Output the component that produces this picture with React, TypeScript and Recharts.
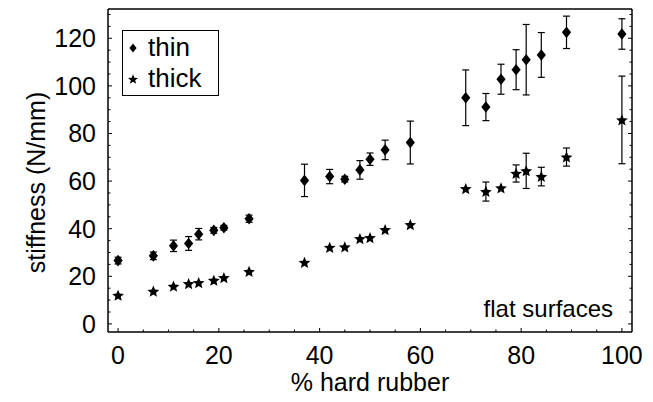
import React from "react";
import {
  ScatterChart,
  Scatter,
  XAxis,
  YAxis,
  ErrorBar,
  Legend,
  Label,
} from "recharts";

// % hard rubber in the sample
const percentHard = [
  0, 7, 11, 14, 16, 19, 21, 26, 37, 42, 45, 48, 50, 53, 58, 69, 73, 76, 79, 81,
  84, 89, 100,
];
// stiffness (N/mm), thin samples
const thinStiffness = [
  26.6, 28.6, 32.8, 33.8, 37.7, 39.3, 40.4, 44.2, 60.3, 61.9, 60.8, 64.7, 69.2,
  73.1, 76.2, 95.0, 91.1, 102.8, 106.8, 111.0, 113.0, 122.5, 121.8,
];
const thinError = [
  1.4, 1.6, 2.4, 2.9, 2.4, 1.2, 1.0, 1.5, 6.8, 3.0, 1.2, 3.9, 2.6, 4.1, 9.0,
  11.7, 5.7, 6.3, 8.4, 14.8, 9.4, 6.8, 6.4,
];
// stiffness (N/mm), thick samples (0 = bar hidden behind the marker)
const thickStiffness = [
  12.0, 13.7, 15.8, 16.9, 17.3, 18.3, 19.4, 22.0, 25.8, 32.1, 32.3, 35.8, 36.2,
  39.6, 41.7, 56.8, 55.6, 57.1, 63.2, 64.3, 61.9, 70.1, 85.7,
];
const thickError = [
  0, 0, 0, 0, 0, 0, 0, 0, 0, 0, 0, 0, 0, 0, 0, 0, 4.0, 0, 3.6, 7.4, 3.9, 3.8,
  18.4,
];

const xTicks = [
  0, 5, 10, 15, 20, 25, 30, 35, 40, 45, 50, 55, 60, 65, 70, 75, 80, 85, 90, 95,
  100,
];
const yTicks = [
  0, 5, 10, 15, 20, 25, 30, 35, 40, 45, 50, 55, 60, 65, 70, 75, 80, 85, 90, 95,
  100, 105, 110, 115, 120, 125, 130,
];
const xLabelEvery = 20;
const yLabelEvery = 20;

const legendItems = [
  { name: "thin", marker: "diamond" },
  { name: "thick", marker: "star" },
];

const font = "'Liberation Sans', Arial, Helvetica, sans-serif";
const ink = "#000";

const thinData = percentHard.map((x, i) => ({
  x,
  y: thinStiffness[i],
  err: thinError[i],
}));
const thickData = percentHard.map((x, i) => ({
  x,
  y: thickStiffness[i],
  err: thickError[i],
}));

const diamondPath = (cx: number, cy: number, hw: number, hh: number) =>
  `M${cx},${cy - hh}L${cx + hw},${cy}L${cx},${cy + hh}L${cx - hw},${cy}Z`;

const starPath = (cx: number, cy: number, R: number, r: number) => {
  let d = "";
  for (let i = 0; i < 10; i++) {
    const rad = i % 2 === 0 ? R : r;
    const a = -Math.PI / 2 + (i * Math.PI) / 5;
    d += `${i === 0 ? "M" : "L"}${cx + rad * Math.cos(a)},${cy + rad * Math.sin(a)}`;
  }
  return d + "Z";
};

const DiamondDot = (props: any) => (
  <path d={diamondPath(props.cx, props.cy, 4.6, 5.8)} fill={ink} />
);
const StarDot = (props: any) => (
  <path d={starPath(props.cx, props.cy + 0.5, 6.2, 2.8)} fill={ink} />
);

const BottomTick = (props: any) => {
  const { x, y, payload } = props;
  const major = payload.value % xLabelEvery === 0;
  return (
    <g>
      <line x1={x} x2={x} y1={y} y2={y - (major ? 4 : 2.5)} stroke={ink} strokeWidth={1} />
      {major && (
        <text x={x} y={y + 32} textAnchor="middle" fontFamily={font} fontSize={25} fill={ink}>
          {payload.value}
        </text>
      )}
    </g>
  );
};

const TopTick = (props: any) => {
  const { x, y, payload } = props;
  const major = payload.value % xLabelEvery === 0;
  return <line x1={x} x2={x} y1={y} y2={y + (major ? 4 : 2.5)} stroke={ink} strokeWidth={1} />;
};

const LeftTick = (props: any) => {
  const { x, y, payload } = props;
  const major = payload.value % yLabelEvery === 0;
  return (
    <g>
      <line x1={x} x2={x + (major ? 4 : 2.5)} y1={y} y2={y} stroke={ink} strokeWidth={1} />
      {major && (
        <text
          x={x - 12}
          y={y}
          dy="0.36em"
          textAnchor="end"
          fontFamily={font}
          fontSize={25}
          fill={ink}
        >
          {payload.value}
        </text>
      )}
    </g>
  );
};

const RightTick = (props: any) => {
  const { x, y, payload } = props;
  const major = payload.value % yLabelEvery === 0;
  return <line x1={x} x2={x - (major ? 4 : 2.5)} y1={y} y2={y} stroke={ink} strokeWidth={1} />;
};

const LegendBox = () => (
  <div
    style={{
      boxSizing: "border-box",
      width: 97,
      height: 66,
      border: `1.5px solid ${ink}`,
      background: "#fff",
      paddingTop: 1,
      paddingLeft: 2,
      fontFamily: font,
      fontSize: 26,
      color: ink,
    }}
  >
    {legendItems.map((item) => (
      <div
        key={item.name}
        style={{ display: "flex", alignItems: "center", height: 31, lineHeight: "31px" }}
      >
        <svg width={16} height={16}>
          <path
            d={
              item.marker === "diamond"
                ? diamondPath(8, 8, 3.6, 4.6)
                : starPath(8, 8.5, 5.2, 2.3)
            }
            fill={ink}
          />
        </svg>
        <span style={{ marginLeft: 7 }}>{item.name}</span>
      </div>
    ))}
  </div>
);

export default function App() {
  return (
    <div style={{ position: "absolute", left: 0, top: 0, background: "#fff" }}>
      <ScatterChart
        width={653}
        height={402}
        margin={{ top: 0, right: 0, bottom: 0, left: 0 }}
      >
        <XAxis
          xAxisId="b"
          type="number"
          dataKey="x"
          orientation="bottom"
          domain={[-2, 102]}
          ticks={xTicks}
          interval={0}
          allowDataOverflow
          height={70}
          axisLine={{ stroke: ink, strokeWidth: 1.5 }}
          tickLine={false}
          tickSize={0}
          tickMargin={0}
          tick={<BottomTick />}
        >
          <Label
            content={({ viewBox }: any) => (
              <g>
                <text
                  x={viewBox.x + viewBox.width / 2}
                  y={viewBox.y + 59}
                  textAnchor="middle"
                  fontFamily={font}
                  fontSize={25}
                  fill={ink}
                >
                  % hard rubber
                </text>
                <text
                  x={viewBox.x + viewBox.width - 19}
                  y={viewBox.y - 15}
                  textAnchor="end"
                  fontFamily={font}
                  fontSize={24}
                  fill={ink}
                >
                  flat surfaces
                </text>
              </g>
            )}
          />
        </XAxis>
        <XAxis
          xAxisId="t"
          type="number"
          orientation="top"
          domain={[-2, 102]}
          ticks={xTicks}
          interval={0}
          allowDataOverflow
          height={9}
          axisLine={{ stroke: ink, strokeWidth: 1.5 }}
          tickLine={false}
          tickSize={0}
          tickMargin={0}
          tick={<TopTick />}
        />
        <YAxis
          yAxisId="l"
          type="number"
          dataKey="y"
          domain={[-3.4, 132.3]}
          ticks={yTicks}
          interval={0}
          allowDataOverflow
          width={108}
          axisLine={{ stroke: ink, strokeWidth: 1.5 }}
          tickLine={false}
          tickSize={0}
          tickMargin={0}
          tick={<LeftTick />}
        >
          <Label
            content={({ viewBox }: any) => {
              const cx = 45;
              const cy = viewBox.y + viewBox.height / 2 + 12;
              return (
                <text
                  x={0}
                  y={0}
                  transform={`translate(${cx},${cy}) rotate(-90)`}
                  textAnchor="middle"
                  fontFamily={font}
                  fontSize={25}
                  fill={ink}
                >
                  stiffness (N/mm)
                </text>
              );
            }}
          />
        </YAxis>
        <YAxis
          yAxisId="r"
          type="number"
          orientation="right"
          domain={[-3.4, 132.3]}
          ticks={yTicks}
          interval={0}
          allowDataOverflow
          width={21}
          axisLine={{ stroke: ink, strokeWidth: 1.5 }}
          tickLine={false}
          tickSize={0}
          tickMargin={0}
          tick={<RightTick />}
        />
        <Legend
          layout="horizontal"
          verticalAlign="middle"
          align="center"
          content={<LegendBox />}
          wrapperStyle={{ left: 122, top: 30, width: "auto", height: "auto" }}
        />
        <Scatter
          name="thin"
          data={thinData}
          xAxisId="b"
          yAxisId="l"
          shape={DiamondDot}
          isAnimationActive={false}
        >
          <ErrorBar
            dataKey="err"
            direction="y"
            width={3.5}
            stroke={ink}
            strokeWidth={1.2}
            isAnimationActive={false}
          />
        </Scatter>
        <Scatter
          name="thick"
          data={thickData}
          xAxisId="b"
          yAxisId="l"
          shape={StarDot}
          isAnimationActive={false}
        >
          <ErrorBar
            dataKey="err"
            direction="y"
            width={3.5}
            stroke={ink}
            strokeWidth={1.2}
            isAnimationActive={false}
          />
        </Scatter>
      </ScatterChart>
    </div>
  );
}
